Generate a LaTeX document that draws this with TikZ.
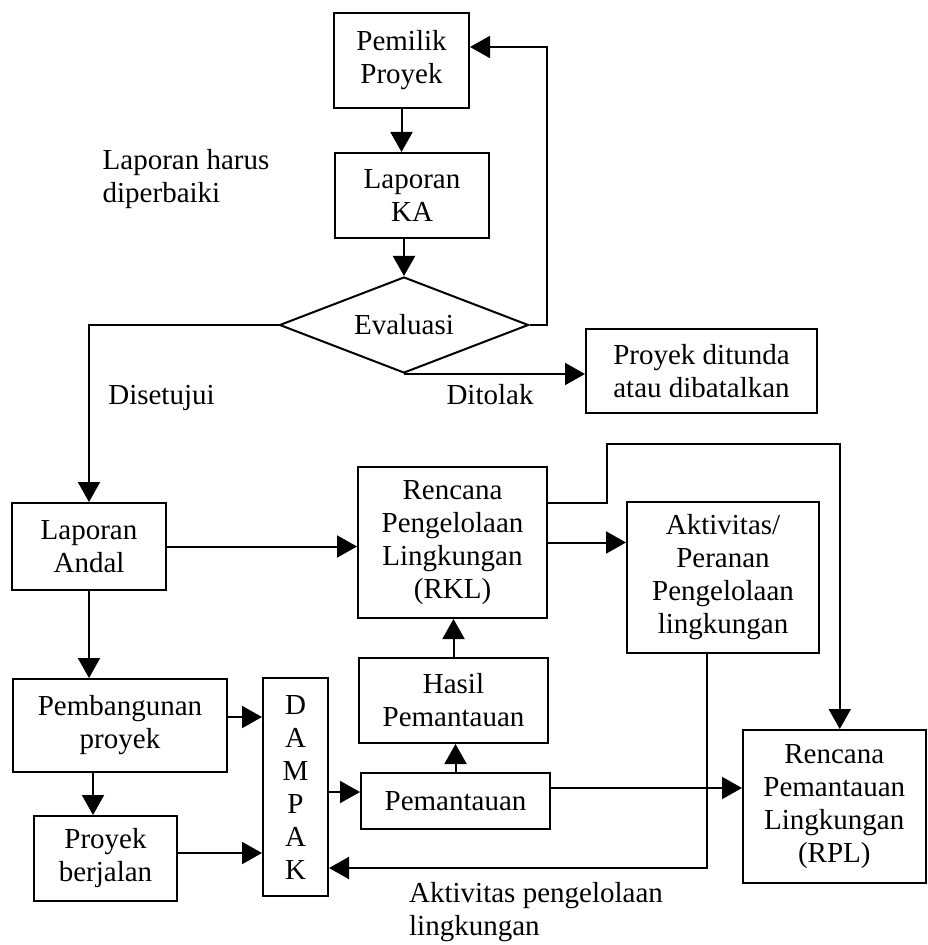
\documentclass[tikz,border=0pt]{standalone}
\usepackage{fontspec}
\setmainfont{Liberation Serif}
\usepackage{xcolor}
\usepackage{tikz}
\usetikzlibrary{shapes.geometric, arrows.meta}

\begin{document}
\begin{tikzpicture}[x=0.5pt, y=-0.5pt, every node/.style={font=\fontsize{14.5}{16.5}\selectfont}]
        % --- gaya ---
        \tikzstyle{kotak} = [
            rectangle,
            draw=black,
            line width=1pt,
            inner sep=0pt,
            align=center
        ]
        \tikzstyle{keputusan} = [diamond, aspect=2.6, draw=black, line width=1pt, inner sep=0pt]
        \tikzstyle{panah} = [line width=1pt, -{Triangle[length=10pt, width=11pt]}]
        \tikzstyle{teks} = [align=left]

        \useasboundingbox (0,0) rectangle (927,945);

        % --- simpul (tahap) ---
        \node (pemilik) [kotak, minimum width=67.5pt, minimum height=47.5pt] at (401.5,60.5) {Pemilik\\Proyek};
        \node (ka) [kotak, minimum width=77pt, minimum height=42.5pt] at (412,195.5) {Laporan\\KA};
        \node (evaluasi) [keputusan, minimum width=124.5pt, minimum height=48pt] at (404,325) {Evaluasi};
        \node (ditunda) [kotak, minimum width=115.5pt, minimum height=42pt] at (701.5,371) {Proyek ditunda\\atau dibatalkan};
        \node (andal) [kotak, minimum width=77pt, minimum height=43.5pt] at (89,546.5) {Laporan\\Andal};
        \node (rkl) [kotak, minimum width=94.5pt, minimum height=75.5pt] at (452.5,542.5) {Rencana\\Pengelolaan\\Lingkungan\\(RKL)};
        \node (aktivitas) [kotak, minimum width=96pt, minimum height=75.5pt] at (723,577.5) {Aktivitas/\\Peranan\\Pengelolaan\\lingkungan};
        \node (pembangunan) [kotak, minimum width=107pt, minimum height=46.5pt] at (120,725.5) {Pembangunan\\proyek};
        \node (berjalan) [kotak, minimum width=71.5pt, minimum height=42.5pt] at (105.5,858.5) {Proyek\\berjalan};
        \node (dampak) [kotak, minimum width=32.5pt, minimum height=109pt] at (295.5,787) {D\\A\\M\\P\\A\\K};
        \node (hasil) [kotak, minimum width=94.5pt, minimum height=42.5pt] at (453.5,700.5) {Hasil\\Pemantauan};
        \node (pemantauan) [kotak, minimum width=94.5pt, minimum height=28pt] at (455.5,801) {Pemantauan};
        \node (rpl) [kotak, minimum width=91.25pt, minimum height=76.5pt] at (834.25,806.5) {Rencana\\Pemantauan\\Lingkungan\\(RPL)};

        % --- keterangan ---
        \node (perbaiki) [teks] at (186,179) {Laporan harus\\diperbaiki};
        \node (setuju) at (161.5,398) {Disetujui};
        \node (tolak) at (490,395) {Ditolak};
        \node (ketaktivitas) [teks] at (536,912) {Aktivitas pengelolaan\\lingkungan};

        \coordinate (balik) at (547,47);
        \coordinate (belok) at (607,444);

        % --- sambungan ---
        \draw [panah] (pemilik.south) -- (pemilik.south |- ka.north);
        \draw [panah] (evaluasi.north |- ka.south) -- (evaluasi.north);
        \draw [panah] (evaluasi.east) -| (balik) -- (balik -| pemilik.east);
        \draw [panah] (evaluasi.west) -| (andal.north);
        \draw [panah] (evaluasi.south) -- (evaluasi.south -| ditunda.west);
        \draw [panah] (andal.east) -- (andal.east -| rkl.west);
        \draw [panah] (rkl.east) -- (rkl.east -| aktivitas.west);
        \draw [panah] ([yshift=19.75pt]rkl.east) -| (belok) -| ([xshift=2.75pt]rpl.north);
        \draw [panah] (andal.south) -- (andal.south |- pembangunan.north);
        \draw [panah] ([yshift=4.25pt]pembangunan.east) coordinate (p1) -- (p1 -| dampak.west);
        \draw [panah] ([xshift=-13.5pt]pembangunan.south) coordinate (p2) -- (p2 |- berjalan.north);
        \draw [panah] ([yshift=2.75pt]berjalan.east) coordinate (p3) -- (p3 -| dampak.west);
        \draw [panah] ([yshift=-2.5pt]dampak.east) coordinate (p4) -- (p4 -| pemantauan.west);
        \draw [panah] (pemantauan.north) -- (pemantauan.north |- hasil.south);
        \draw [panah] (hasil.north) -- (hasil.north |- rkl.south);
        \draw [panah] ([yshift=6.5pt]pemantauan.east) coordinate (p5) -- (p5 -| rpl.west);
        \draw [panah] ([xshift=-8pt]aktivitas.south) |- ([yshift=-40.5pt]dampak.east);
    \end{tikzpicture}
\end{document}
